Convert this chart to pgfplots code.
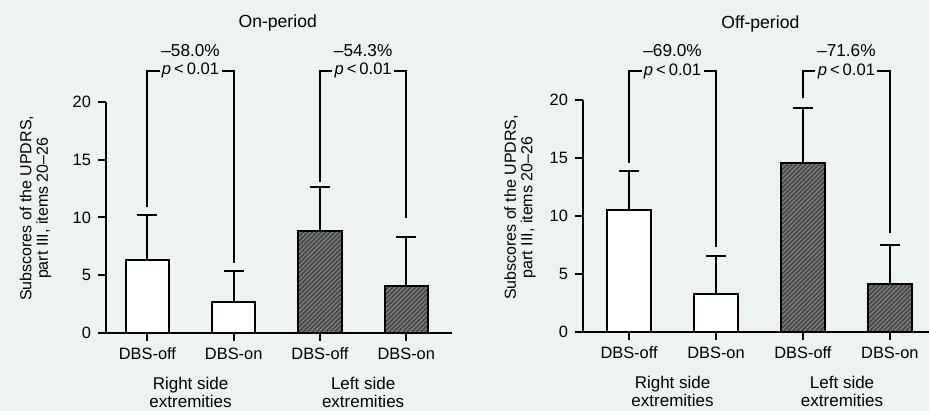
\documentclass[border=0pt]{standalone}
\usepackage{pgfplots}
\pgfplotsset{compat=1.18}
\usepackage{fontspec}
\setmainfont{Liberation Sans}
\usetikzlibrary{patterns.meta}
\definecolor{bg}{HTML}{EEF2F2}
\definecolor{hatchfill}{HTML}{4A4A4A}
\definecolor{hatchline}{HTML}{8E8E8E}
\pgfplotsset{
  panel/.style={
    scale only axis, width=173pt,
    axis x line=bottom, axis y line=left,
    axis line style={-, line width=1pt},
    every tick/.style={black, line width=1pt},
    tick align=outside, major tick length=4pt,
    ymin=0, ymax=20, ytick={0,5,10,15,20},
    xtick={1,2,3,4}, xticklabels={DBS-off,DBS-on,DBS-off,DBS-on},
    /pgf/number format/assume math mode=true,
    tick label style={font=\fontsize{8.2}{10}\selectfont},
    ylabel style={font=\fontsize{8.0}{8.2}\selectfont, align=center, anchor=center},
    ylabel={Subscores of the UPDRS,\\part III, items 20–26},
    clip=false,
  },
  whitebar/.style={ybar, bar width=0.5, bar shift=0pt, draw=black, line width=1pt, fill=white,
    error bars/.cd, y dir=plus, y explicit,
    error bar style={line width=1pt, black},
    error mark options={rotate=90, mark size=5pt, line width=1pt, black}},
  darkbar/.style={ybar, bar width=0.5, bar shift=0pt, draw=black, line width=1pt, fill=hatchfill,
    postaction={pattern={Lines[angle=45,distance=1.6pt,line width=0.45pt]}, pattern color=hatchline},
    error bars/.cd, y dir=plus, y explicit,
    error bar style={line width=1pt, black},
    error mark options={rotate=90, mark size=5pt, line width=1pt, black}},
}
\newcommand{\pnode}{\textit{p}\hspace{0.18em}<\hspace{0.18em}0.01}
\tikzset{pl/.style={fill=bg, inner sep=1.2pt, font=\fontsize{8.3}{9}\selectfont},
  pc/.style={font=\fontsize{8.6}{9}\selectfont},
  ttl/.style={font=\fontsize{8.8}{9}\selectfont},
  grp/.style={font=\fontsize{8.5}{8.6}\selectfont, align=center}}
\begin{document}
\begin{tikzpicture}
\fill[bg] (0,0) rectangle (464.5pt,205.5pt);
\path[use as bounding box] (0,0) rectangle (464.5pt,205.5pt);
% Left panel: On-period
\begin{axis}[panel, at={(53pt,39pt)}, anchor=origin, height=115.5pt,
  xmin=0.52, xmax=4.53,
  ylabel style={at={(axis description cs:-0.204,0.54)}}]
\addplot[whitebar] coordinates {(1,6.3) +- (0,3.9) (2,2.65) +- (0,2.75)};
\addplot[darkbar] coordinates {(3,8.8) +- (0,3.8) (4,4.05) +- (0,4.25)};
\draw[line width=1pt] (axis cs:1,10.9) |- (axis cs:2,22.7) -- (axis cs:2,6.05);
\draw[line width=1pt] (axis cs:3,13.1) |- (axis cs:4,22.7) -- (axis cs:4,9.95);
\node[pl] at (axis cs:1.5,22.7) {\pnode};
\node[pl] at (axis cs:3.5,22.7) {\pnode};
\node[pc] at (axis cs:1.5,24.45) {–58.0\%};
\node[pc] at (axis cs:3.5,24.45) {–54.3\%};
\node[ttl] at (axis cs:2.51,26.85) {On-period};
\node[grp] at (axis cs:1.5,-5.15) {Right side\\extremities};
\node[grp] at (axis cs:3.5,-5.15) {Left side\\extremities};
\end{axis}
% Right panel: Off-period
\begin{axis}[panel, at={(291.5pt,39.65pt)}, anchor=origin, height=115.85pt,
  xmin=0.47, xmax=4.45,
  ylabel style={at={(axis description cs:-0.182,0.536)}}]
\addplot[whitebar] coordinates {(1,10.5) +- (0,3.4) (2,3.25) +- (0,3.3)};
\addplot[darkbar] coordinates {(3,14.6) +- (0,4.7) (4,4.15) +- (0,3.35)};
\draw[line width=1pt] (axis cs:1,14.6) |- (axis cs:2,22.5) -- (axis cs:2,7.35);
\draw[line width=1pt] (axis cs:3,20.15) |- (axis cs:4,22.5) -- (axis cs:4,8.5);
\node[pl] at (axis cs:1.5,22.5) {\pnode};
\node[pl] at (axis cs:3.5,22.5) {\pnode};
\node[pc] at (axis cs:1.5,24.25) {–69.0\%};
\node[pc] at (axis cs:3.5,24.25) {–71.6\%};
\node[ttl] at (axis cs:2.51,26.6) {Off-period};
\node[grp] at (axis cs:1.5,-5.15) {Right side\\extremities};
\node[grp] at (axis cs:3.45,-5.15) {Left side\\extremities};
\end{axis}
\end{tikzpicture}
\end{document}
